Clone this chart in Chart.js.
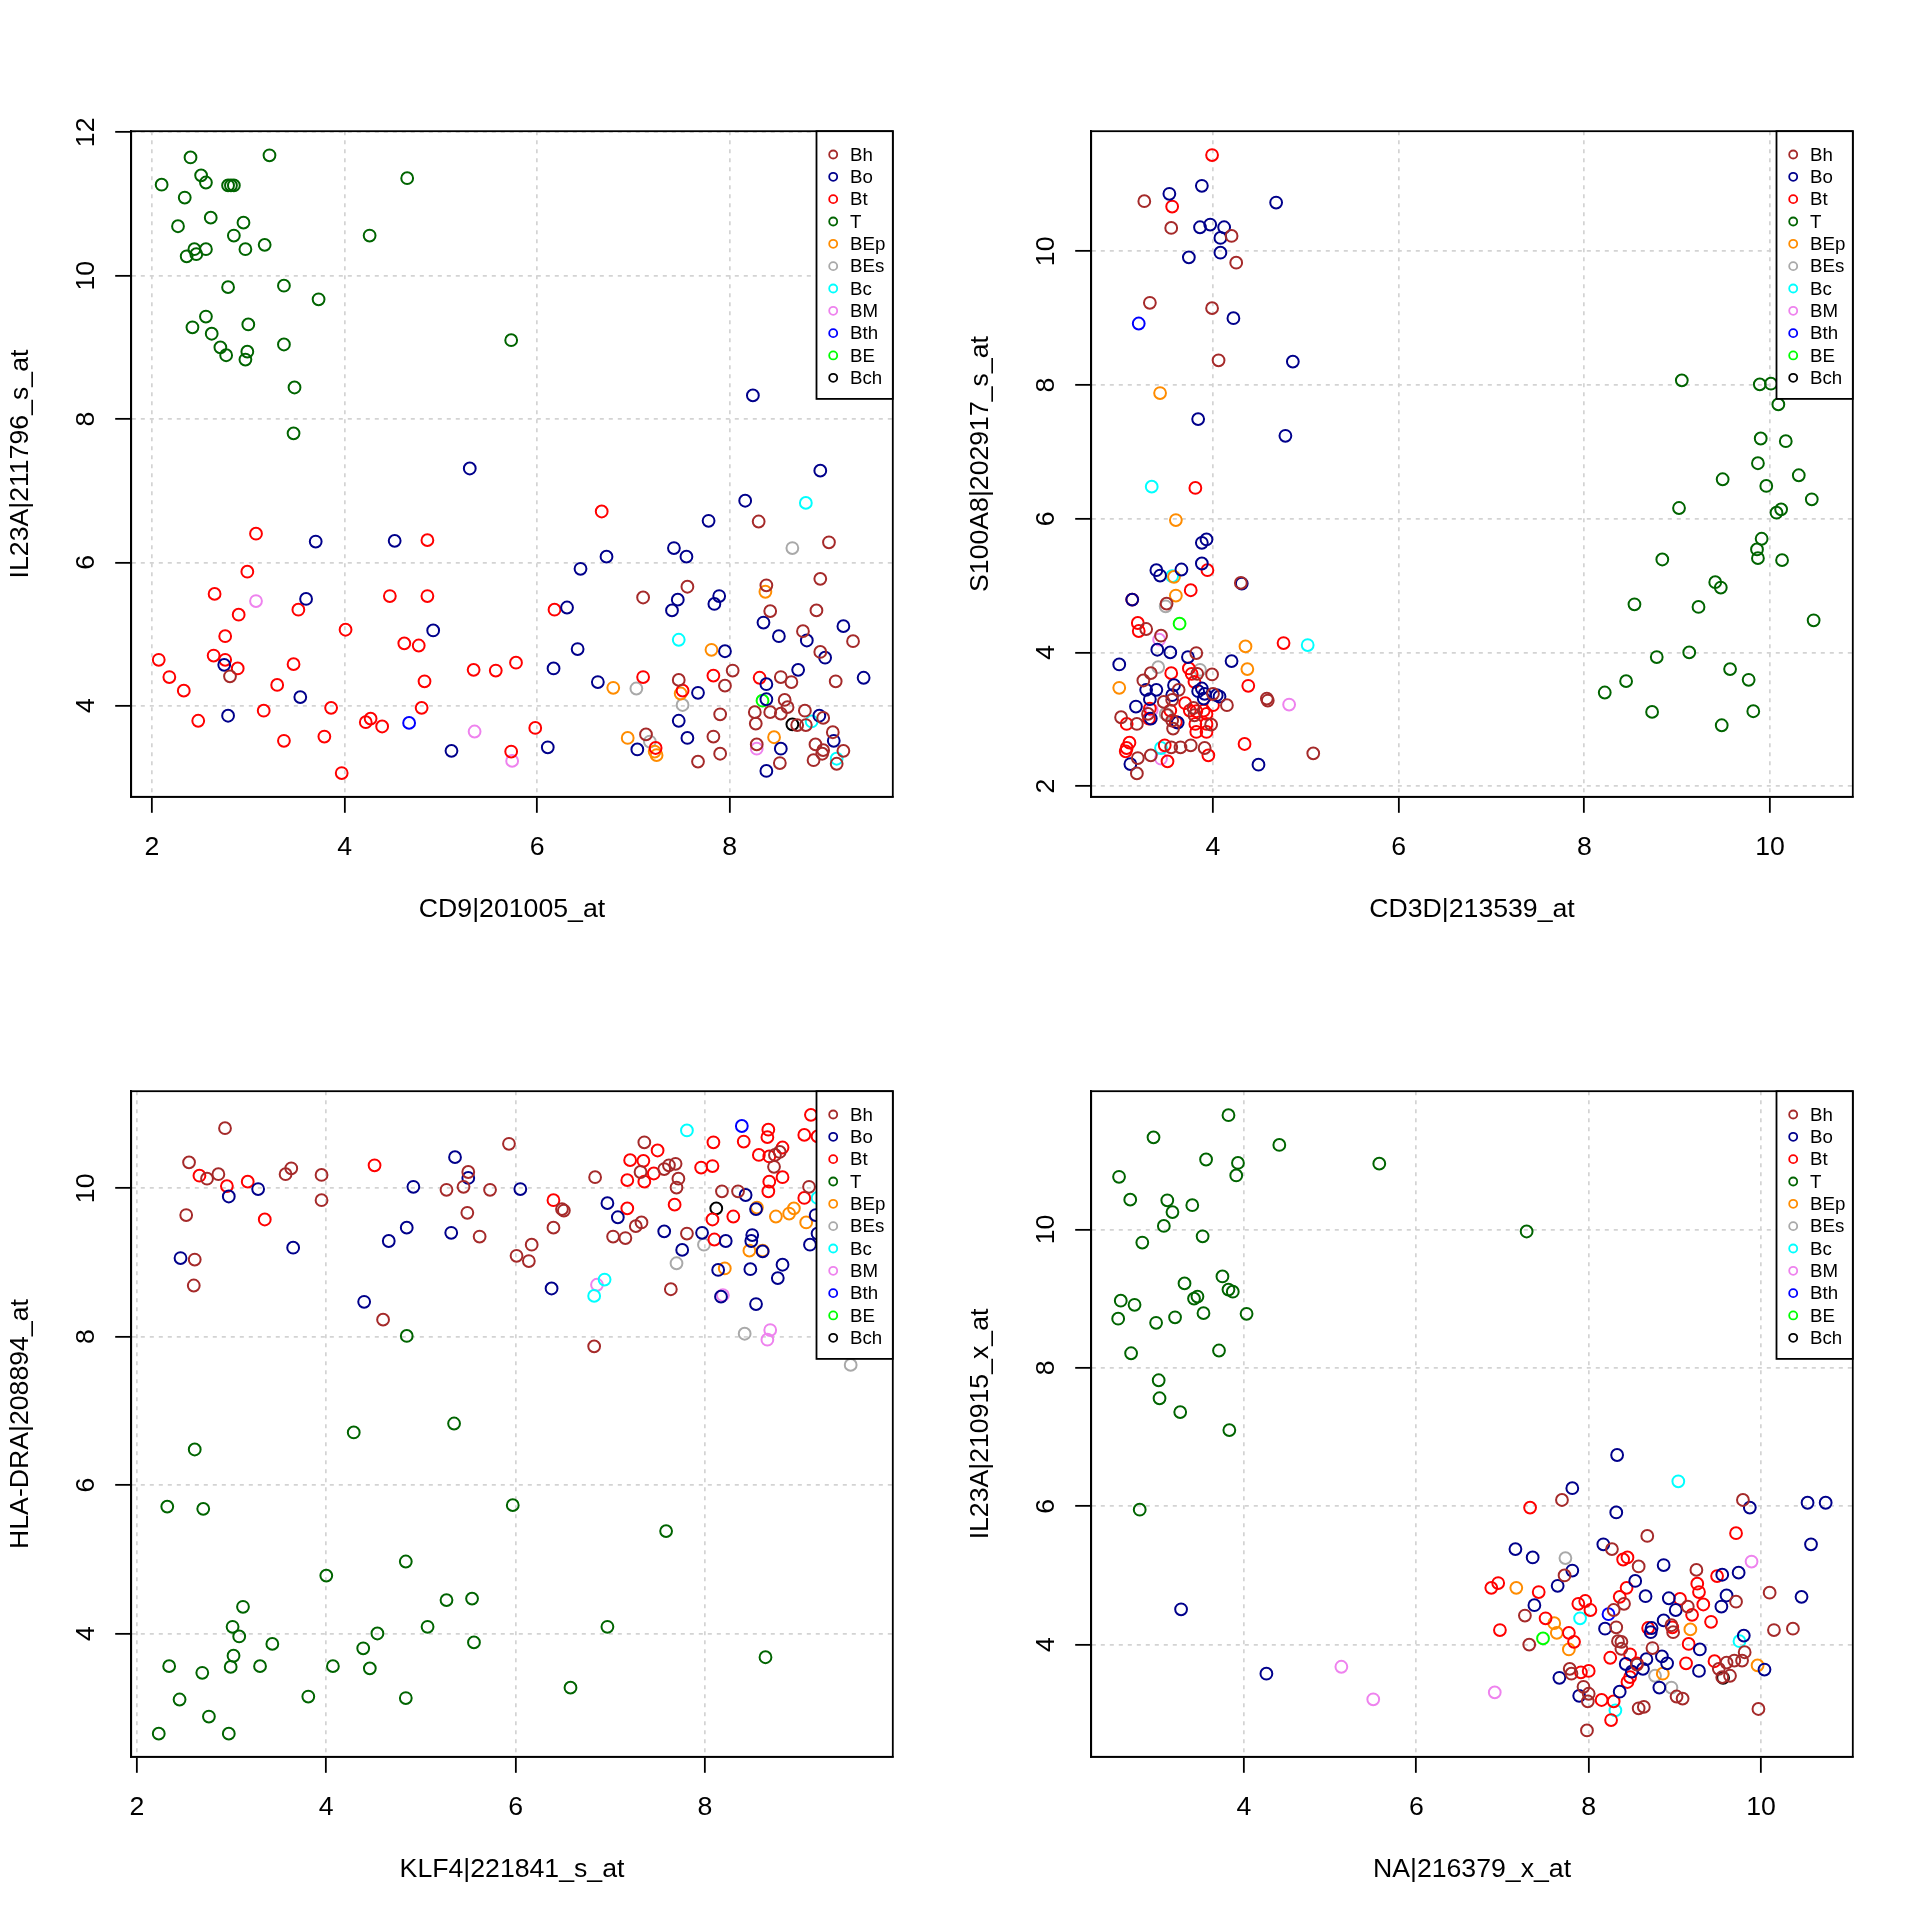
<!DOCTYPE html>
<html><head><meta charset="utf-8">
<script src="https://cdn.jsdelivr.net/npm/chart.js@4.4.1/dist/chart.umd.min.js"></script>
<style>
html,body{margin:0;padding:0;background:#fff;}
#fig{position:relative;width:1920px;height:1920px;background:#fff;overflow:hidden;}
canvas{position:absolute;}
</style></head><body>
<div id="fig">
<canvas id="c1" width="960" height="960" style="left:0px;top:0px;width:960px;height:960px"></canvas>
<canvas id="c2" width="960" height="960" style="left:960px;top:0px;width:960px;height:960px"></canvas>
<canvas id="c3" width="960" height="960" style="left:0px;top:960px;width:960px;height:960px"></canvas>
<canvas id="c4" width="960" height="960" style="left:960px;top:960px;width:960px;height:960px"></canvas>
</div>
<script>
// ---------- categories ----------
const groups = ["Bh","Bo","Bt","T","BEp","BEs","Bc","BM","Bth","BE","Bch"];
const groupColors = ["#A52A2A","#00008B","#FF0000","#006400","#FF8C00","#A9A9A9","#00FFFF","#EE82EE","#0000FF","#00FF00","#000000"];

// ---------- panel 1: CD9|201005_at vs IL23A|211796_s_at ----------
const p1Title = ["CD9|201005_at","IL23A|211796_s_at"];
const p1XTicks = [2,4,6,8];
const p1YTicks = [4,6,8,10,12];
const p1Range = [1.784, 9.693, 2.729, 12.016];
const p1Bh = [[2.81,4.41],[8.30,6.57],[9.03,6.28],[7.56,5.66],[7.10,5.51],[8.38,5.68],[8.94,5.77],[8.42,5.32],[8.90,5.33],[8.76,5.04],[9.28,4.90],[8.94,4.75],[7.47,4.36],[8.03,4.49],[7.95,4.28],[8.53,4.40],[8.64,4.33],[9.10,4.34],[8.57,4.08],[8.60,3.98],[8.53,3.89],[8.42,3.91],[8.26,3.91],[8.27,3.75],[8.78,3.93],[7.90,3.88],[8.79,3.73],[8.70,3.73],[8.97,3.83],[7.83,3.57],[7.13,3.60],[7.90,3.33],[7.67,3.22],[8.28,3.46],[8.52,3.20],[9.07,3.63],[8.89,3.46],[8.97,3.38],[9.18,3.37],[8.87,3.24],[8.96,3.33],[9.11,3.19]];
const p1Bo = [[5.30,7.31],[8.24,8.33],[3.70,6.29],[4.52,6.30],[3.60,5.49],[4.92,5.05],[2.75,4.57],[3.54,4.12],[2.79,3.86],[6.17,4.52],[6.31,5.37],[5.11,3.37],[6.11,3.42],[8.94,7.28],[8.16,6.86],[7.78,6.58],[7.42,6.20],[7.55,6.08],[6.72,6.08],[6.45,5.91],[7.46,5.48],[7.40,5.33],[7.89,5.53],[7.84,5.42],[8.35,5.16],[9.18,5.11],[8.51,4.97],[8.80,4.91],[8.99,4.67],[7.95,4.76],[6.42,4.79],[6.63,4.33],[7.67,4.18],[8.38,4.30],[8.71,4.50],[9.39,4.39],[8.38,4.09],[7.47,3.79],[8.93,3.86],[7.56,3.55],[7.04,3.39],[8.53,3.40],[8.38,3.09],[9.08,3.51]];
const p1Bt = [[3.08,6.40],[4.86,6.31],[2.99,5.87],[2.65,5.56],[3.52,5.34],[4.47,5.53],[4.86,5.53],[2.90,5.27],[4.01,5.06],[2.76,4.97],[4.62,4.87],[4.77,4.84],[2.07,4.64],[2.64,4.70],[2.76,4.64],[2.89,4.52],[2.18,4.40],[3.47,4.58],[2.33,4.21],[3.30,4.29],[4.83,4.34],[5.34,4.50],[5.57,4.49],[5.78,4.60],[6.18,5.34],[4.80,3.97],[3.86,3.97],[3.16,3.93],[2.48,3.79],[4.22,3.77],[4.27,3.82],[4.39,3.71],[3.37,3.51],[3.79,3.57],[5.73,3.36],[5.98,3.69],[3.97,3.06],[6.67,6.71],[7.10,4.40],[7.51,4.21],[7.83,4.42],[8.31,4.39],[7.23,3.41]];
const p1T = [[2.40,11.65],[3.22,11.68],[2.10,11.27],[2.51,11.40],[2.56,11.30],[2.79,11.26],[2.82,11.26],[2.85,11.26],[2.34,11.09],[4.65,11.36],[2.61,10.81],[2.27,10.69],[2.95,10.74],[2.85,10.56],[4.26,10.56],[3.17,10.43],[2.97,10.37],[2.56,10.37],[2.44,10.37],[2.46,10.30],[2.36,10.27],[2.79,9.84],[3.37,9.86],[3.73,9.67],[2.56,9.43],[2.42,9.28],[3.00,9.32],[2.62,9.19],[3.37,9.04],[2.71,9.00],[2.77,8.89],[2.99,8.94],[2.97,8.83],[5.73,9.10],[3.48,8.44],[3.47,7.80]];
const p1BEp = [[8.37,5.59],[7.81,4.78],[6.79,4.25],[7.49,4.17],[8.46,3.56],[6.94,3.55],[7.22,3.36],[7.24,3.31]];
const p1BEs = [[8.65,6.20],[7.03,4.24],[7.51,4.01],[7.17,3.50]];
const p1Bc = [[8.79,6.83],[7.47,4.92],[8.85,3.78],[9.11,3.26]];
const p1BM = [[3.08,5.46],[5.35,3.64],[5.74,3.23],[8.28,3.40]];
const p1Bth = [[4.67,3.76]];
const p1BE = [[8.34,4.07]];
const p1Bch = [[8.65,3.74]];

// ---------- panel 2: CD3D|213539_at vs S100A8|202917_s_at ----------
const p2Title = ["CD3D|213539_at","S100A8|202917_s_at"];
const p2XTicks = [4,6,8,10];
const p2YTicks = [2,4,6,8,10];
const p2Range = [2.688, 10.892, 1.840, 11.797];
const p2Bh = [[3.26,10.75],[3.55,10.35],[4.20,10.23],[4.25,9.83],[3.32,9.23],[3.99,9.15],[4.06,8.37],[4.30,5.04],[3.50,4.73],[3.28,4.35],[3.44,4.25],[3.82,3.99],[4.58,3.31],[4.59,3.28],[5.08,2.49],[3.33,3.69],[3.25,3.58],[3.99,3.67],[3.63,3.44],[4.15,3.21],[4.00,3.38],[3.01,3.03],[3.18,2.93],[3.47,3.26],[3.56,3.29],[3.51,3.06],[3.56,2.98],[3.57,2.86],[3.79,3.17],[3.80,3.06],[3.98,2.92],[3.30,3.08],[3.19,2.42],[3.18,2.19],[3.33,2.46],[3.55,2.58],[3.65,2.58],[3.76,2.61],[3.91,2.57],[3.83,3.68]];
const p2Bo = [[3.88,10.98],[3.53,10.86],[4.68,10.73],[3.86,10.36],[3.97,10.40],[4.12,10.36],[4.08,10.20],[3.74,9.91],[4.08,9.98],[4.22,9.00],[4.86,8.35],[3.84,7.49],[4.78,7.24],[3.88,5.64],[3.93,5.69],[3.39,5.23],[3.43,5.15],[3.66,5.24],[3.88,5.33],[4.31,5.03],[3.13,4.79],[3.40,4.04],[3.54,4.00],[3.73,3.93],[4.20,3.87],[4.49,2.32],[2.99,3.82],[3.28,3.44],[3.39,3.44],[3.58,3.51],[3.56,3.36],[3.84,3.42],[3.88,3.46],[3.90,3.31],[3.91,3.38],[4.04,3.36],[4.07,3.34],[3.32,3.30],[3.17,3.19],[3.33,3.01],[3.62,2.95],[3.11,2.33]];
const p2Bt = [[3.99,11.44],[3.56,10.67],[3.81,6.46],[3.94,5.23],[3.76,4.93],[3.13,4.79],[3.19,4.44],[3.20,4.32],[4.76,4.14],[4.38,3.50],[4.34,2.63],[3.55,3.69],[3.74,3.76],[3.77,3.68],[3.80,3.56],[3.07,2.93],[3.31,3.01],[3.54,3.13],[3.60,2.96],[3.70,3.24],[3.75,3.13],[3.82,3.12],[3.90,3.13],[3.93,3.08],[4.00,3.21],[3.81,2.93],[3.93,2.93],[3.82,2.81],[3.93,2.81],[3.32,3.16],[3.07,2.57],[3.10,2.65],[3.06,2.52],[3.51,2.37],[3.48,2.61],[3.95,2.46]];
const p2T = [[9.05,8.07],[9.89,8.01],[10.01,8.02],[10.09,7.71],[9.90,7.20],[10.17,7.16],[9.87,6.83],[9.49,6.59],[10.31,6.65],[9.96,6.49],[10.45,6.29],[9.02,6.16],[10.07,6.09],[10.12,6.14],[9.91,5.70],[9.86,5.54],[9.87,5.41],[10.13,5.38],[8.84,5.39],[9.41,5.05],[9.47,4.97],[8.54,4.72],[9.23,4.68],[10.47,4.48],[9.13,4.00],[8.78,3.93],[9.57,3.75],[9.77,3.59],[8.45,3.57],[8.22,3.40],[8.73,3.11],[9.82,3.12],[9.48,2.91]];
const p2BEp = [[3.43,7.88],[3.60,5.98],[3.58,5.13],[3.60,4.85],[4.35,4.09],[4.37,3.75],[2.99,3.47]];
const p2BEs = [[3.49,4.69],[3.41,3.78],[3.86,3.74],[3.49,3.08]];
const p2Bc = [[3.34,6.48],[3.56,5.14],[5.02,4.11],[3.44,2.57]];
const p2BM = [[3.42,4.19],[4.82,3.22],[3.34,3.14],[3.44,2.41]];
const p2Bth = [[3.20,8.92]];
const p2BE = [[3.64,4.43]];
const p2Bch = [];

// ---------- panel 3: KLF4|221841_s_at vs HLA-DRA|208894_at ----------
const p3Title = ["KLF4|221841_s_at","HLA-DRA|208894_at"];
const p3XTicks = [2,4,6,8];
const p3YTicks = [4,6,8,10];
const p3Range = [1.939, 9.985, 2.338, 11.309];
const p3Bh = [[2.93,10.81],[2.55,10.35],[2.74,10.13],[2.86,10.19],[3.57,10.19],[3.63,10.27],[3.95,10.18],[3.95,9.84],[2.52,9.64],[2.61,9.04],[2.60,8.69],[5.50,10.22],[5.45,10.02],[5.27,9.98],[5.73,9.98],[5.93,10.60],[5.49,9.67],[5.62,9.35],[4.60,8.23],[6.01,9.09],[7.36,10.62],[7.32,10.22],[7.57,10.26],[7.62,10.31],[7.69,10.33],[7.72,10.13],[7.70,10.01],[6.84,10.15],[6.49,9.72],[6.51,9.70],[6.40,9.47],[7.27,9.49],[7.33,9.54],[7.03,9.35],[7.16,9.33],[6.17,9.24],[6.14,9.02],[7.81,9.39],[7.64,8.64],[6.83,7.87],[8.79,10.49],[8.74,10.45],[8.73,10.29],[8.18,9.96],[8.35,9.96],[9.10,10.02]];
const p3Bo = [[3.28,9.99],[2.97,9.89],[3.65,9.20],[2.46,9.06],[5.36,10.42],[5.50,10.14],[4.92,10.02],[5.32,9.40],[4.85,9.47],[4.66,9.29],[4.40,8.47],[6.05,9.99],[6.97,9.80],[7.08,9.61],[7.57,9.42],[7.76,9.17],[7.97,9.40],[6.38,8.65],[8.43,9.91],[8.54,9.72],[8.22,9.29],[8.50,9.37],[8.49,9.29],[8.61,9.15],[8.14,8.90],[8.48,8.91],[8.82,8.97],[8.77,8.79],[8.17,8.54],[8.54,8.44],[9.11,9.24],[9.17,9.64],[9.19,9.39]];
const p3Bt = [[2.66,10.17],[2.95,10.03],[3.17,10.09],[3.35,9.58],[4.51,10.31],[7.50,10.51],[7.21,10.38],[7.35,10.37],[7.18,10.11],[7.36,10.09],[7.46,10.20],[7.68,9.78],[6.40,9.84],[7.18,9.73],[8.09,10.62],[8.41,10.63],[8.67,10.79],[8.66,10.69],[8.57,10.45],[8.68,10.43],[8.82,10.55],[8.68,10.09],[8.67,9.96],[8.82,10.15],[9.05,10.72],[9.12,10.99],[9.19,10.70],[7.96,10.28],[8.08,10.30],[8.08,9.58],[8.30,9.62],[9.05,9.87],[8.10,9.31]];
const p3T = [[2.61,6.48],[4.29,6.71],[5.35,6.83],[2.32,5.71],[2.70,5.68],[5.97,5.73],[7.59,5.38],[4.84,4.97],[4.00,4.78],[5.27,4.45],[5.54,4.47],[3.12,4.36],[5.07,4.09],[6.97,4.09],[3.01,4.09],[3.08,3.96],[4.54,4.00],[3.43,3.86],[5.56,3.88],[4.39,3.80],[3.02,3.70],[2.34,3.56],[2.99,3.55],[3.30,3.56],[4.07,3.56],[4.46,3.53],[2.69,3.47],[8.64,3.68],[6.58,3.27],[3.81,3.15],[4.84,3.13],[2.45,3.11],[2.76,2.88],[2.23,2.65],[2.97,2.65],[4.85,8.01]];
const p3BEp = [[8.55,9.74],[8.75,9.62],[8.89,9.66],[8.94,9.73],[9.07,9.54],[8.47,9.16],[8.61,9.16],[8.21,8.92]];
const p3BEs = [[7.70,8.99],[7.99,9.24],[8.42,8.04],[9.54,7.62]];
const p3Bc = [[7.81,10.78],[6.94,8.77],[6.83,8.55],[9.19,9.87]];
const p3BM = [[6.86,8.70],[8.19,8.56],[8.69,8.09],[8.66,7.96]];
const p3Bth = [[8.39,10.84]];
const p3BE = [];
const p3Bch = [[8.12,9.73]];

// ---------- panel 4: NA|216379_x_at vs IL23A|210915_x_at ----------
const p4Title = ["NA|216379_x_at","IL23A|210915_x_at"];
const p4XTicks = [4,6,8,10];
const p4YTicks = [4,6,8,10];
const p4Range = [2.227, 11.065, 2.379, 11.997];
const p4Bh = [[7.69,6.09],[9.79,6.09],[8.68,5.57],[8.27,5.38],[8.58,5.13],[7.72,5.00],[9.25,5.08],[7.26,4.42],[7.31,4.00],[8.29,4.50],[8.32,4.25],[8.41,4.59],[9.15,4.55],[9.71,4.62],[10.10,4.75],[8.96,4.28],[8.98,4.18],[8.34,4.05],[8.38,4.04],[8.38,3.94],[8.74,3.95],[8.56,3.71],[9.51,3.65],[9.60,3.74],[9.69,3.77],[9.78,3.77],[9.81,3.89],[9.55,3.53],[9.64,3.55],[10.15,4.21],[9.97,3.07],[7.78,3.65],[7.80,3.58],[7.94,3.39],[8.00,3.29],[7.99,3.18],[7.98,2.76],[8.58,3.08],[8.64,3.10],[9.02,3.25],[9.09,3.22],[10.37,4.23]];
const p4Bo = [[8.33,6.74],[7.81,6.26],[8.32,5.91],[9.87,5.98],[8.17,5.45],[7.15,5.38],[7.35,5.26],[8.87,5.15],[7.81,5.07],[7.64,4.85],[9.55,5.01],[9.74,5.04],[7.37,4.57],[8.19,4.23],[8.54,4.92],[8.66,4.70],[8.93,4.67],[9.01,4.50],[9.54,4.55],[9.60,4.71],[8.87,4.35],[8.73,4.24],[8.72,4.18],[8.43,3.72],[8.50,3.61],[8.63,3.65],[8.67,3.79],[8.85,3.83],[8.91,3.73],[9.29,3.93],[9.28,3.62],[9.80,4.13],[10.04,3.64],[7.66,3.52],[7.89,3.26],[8.36,3.32],[8.82,3.38],[3.27,4.51],[4.26,3.58],[10.54,6.05],[10.75,6.05],[10.58,5.45],[10.47,4.69]];
const p4Bt = [[7.32,5.98],[9.71,5.61],[8.40,5.23],[8.45,5.26],[9.49,4.99],[6.87,4.82],[6.95,4.89],[7.42,4.76],[7.50,4.38],[7.77,4.17],[7.83,4.04],[6.97,4.21],[7.88,4.59],[7.96,4.63],[8.02,4.50],[8.36,4.69],[8.44,4.82],[9.06,4.66],[9.20,4.43],[9.26,4.88],[9.28,4.76],[9.33,4.58],[9.42,4.33],[8.97,4.25],[8.69,4.24],[8.48,3.86],[8.25,3.81],[8.56,3.73],[8.45,3.46],[8.48,3.53],[9.16,4.01],[9.13,3.73],[9.46,3.76],[7.91,3.60],[8.00,3.62],[8.15,3.20],[8.29,3.18],[8.26,2.91]];
const p4T = [[3.82,11.65],[2.95,11.33],[4.41,11.22],[3.56,11.01],[3.93,10.96],[3.91,10.78],[5.57,10.95],[2.55,10.76],[2.68,10.43],[3.11,10.42],[3.17,10.25],[3.40,10.35],[3.07,10.05],[3.52,9.90],[2.82,9.81],[7.28,9.97],[3.75,9.32],[3.31,9.22],[3.82,9.13],[3.87,9.10],[3.42,9.00],[3.46,9.03],[2.57,8.97],[2.73,8.91],[2.54,8.71],[2.98,8.65],[3.20,8.73],[3.53,8.79],[4.03,8.78],[2.69,8.21],[3.71,8.25],[3.01,7.82],[3.02,7.56],[3.26,7.36],[3.83,7.10],[2.79,5.95]];
const p4BEp = [[7.16,4.82],[7.60,4.31],[7.63,4.17],[7.77,3.93],[9.18,4.22],[8.86,3.58],[9.96,3.70]];
const p4BEs = [[7.73,5.25],[8.77,3.55],[8.96,3.38]];
const p4Bc = [[9.04,6.36],[7.90,4.38],[9.75,4.05],[8.31,3.05]];
const p4BM = [[9.89,5.20],[6.91,3.31],[5.13,3.68],[5.50,3.21]];
const p4Bth = [[8.23,4.44]];
const p4BE = [[7.47,4.09]];
const p4Bch = [[9.56,3.52]];

const panel1 = [p1Bh,p1Bo,p1Bt,p1T,p1BEp,p1BEs,p1Bc,p1BM,p1Bth,p1BE,p1Bch];
const panel2 = [p2Bh,p2Bo,p2Bt,p2T,p2BEp,p2BEs,p2Bc,p2BM,p2Bth,p2BE,p2Bch];
const panel3 = [p3Bh,p3Bo,p3Bt,p3T,p3BEp,p3BEs,p3Bc,p3BM,p3Bth,p3BE,p3Bch];
const panel4 = [p4Bh,p4Bo,p4Bt,p4T,p4BEp,p4BEs,p4Bc,p4BM,p4Bth,p4BE,p4Bch];

// ---------- drawing ----------
const FONT = "'Liberation Sans', Arial, Helvetica, sans-serif";
const FS = 26.67;

const boxPlugin = {
  id: 'rbox',
  afterDraw(chart) {
    const a = chart.chartArea, c = chart.ctx;
    c.save();
    c.strokeStyle = '#000'; c.lineWidth = 1.8;
    c.strokeRect(a.left, a.top, a.right - a.left, a.bottom - a.top);
    c.restore();
  }
};
const legendPlugin = {
  id: 'rlegend',
  afterDraw(chart) {
    const a = chart.chartArea, c = chart.ctx;
    const w = 76.3, h = 267.7;
    const left = a.right - w, top = a.top;
    c.save();
    c.fillStyle = '#fff';
    c.fillRect(left, top, w, h);
    c.strokeStyle = '#000'; c.lineWidth = 1.8;
    c.strokeRect(left, top, w, h);
    c.font = '18.7px ' + FONT;
    c.textBaseline = 'middle';
    c.textAlign = 'left';
    chart.data.datasets.forEach((ds, i) => {
      const y = top + 23.3 + i * 22.33;
      c.beginPath();
      c.arc(left + 16.7, y, 4.0, 0, Math.PI * 2);
      c.strokeStyle = ds.borderColor; c.lineWidth = 1.8;
      c.stroke();
      c.fillStyle = '#000';
      c.fillText(ds.label, left + 33.5, y + 1);
    });
    c.restore();
  }
};

function axisCommon(ticks, title, isX) {
  const o = {
    type: 'linear',
    afterBuildTicks: (s) => { s.ticks = ticks.map(v => ({ value: v })); },
    grid: { color: '#D3D3D3', lineWidth: 1.7, drawTicks: true, tickLength: 16, tickColor: '#000', tickWidth: 1.8, tickBorderDash: [], borderDash: [4, 5] },
    border: { display: true, color: '#000', width: 1.8, dash: [4, 5] },
    ticks: { color: '#000', font: { family: FONT, size: FS }, autoSkip: false },
    title: { display: true, text: title, color: '#000', font: { family: FONT, size: FS, lineHeight: 1.2 } }
  };
  if (isX) {
    o.afterFit = (s) => { s.height = 163.2; };
    o.ticks.padding = 19; o.ticks.maxRotation = 0; o.ticks.minRotation = 0;
    o.title.padding = { top: 0, bottom: 34.2 };
  } else {
    o.afterFit = (s) => { s.width = 131.2; };
    o.ticks.padding = 14; o.ticks.minRotation = 90; o.ticks.maxRotation = 90; o.ticks.crossAlign = 'center';
    o.title.padding = { top: 4.8, bottom: 0 };
  }
  return o;
}

function makePanel(id, series, range, xt, yt, titles) {
  const ctx = document.getElementById(id);
  return new Chart(ctx, {
    type: 'scatter',
    data: {
      datasets: groups.map((g, i) => ({
        label: g,
        data: series[i].map(p => ({ x: p[0], y: p[1] })),
        borderColor: groupColors[i],
        backgroundColor: 'rgba(0,0,0,0)',
        pointRadius: 5.9, pointHoverRadius: 5.9,
        pointBorderWidth: 2, pointHoverBorderWidth: 2,
        showLine: false
      }))
    },
    options: {
      responsive: false, animation: false, devicePixelRatio: 1,
      events: [],
      layout: { autoPadding: false, padding: { top: 131.2, right: 67.2, left: 0, bottom: 0 } },
      plugins: { legend: { display: false }, tooltip: { enabled: false } },
      scales: {
        x: Object.assign(axisCommon(xt, titles[0], true), { min: range[0], max: range[1], position: 'bottom' }),
        y: Object.assign(axisCommon(yt, titles[1], false), { min: range[2], max: range[3], position: 'left' })
      }
    },
    plugins: [boxPlugin, legendPlugin]
  });
}

makePanel('c1', panel1, p1Range, p1XTicks, p1YTicks, p1Title);
makePanel('c2', panel2, p2Range, p2XTicks, p2YTicks, p2Title);
makePanel('c3', panel3, p3Range, p3XTicks, p3YTicks, p3Title);
makePanel('c4', panel4, p4Range, p4XTicks, p4YTicks, p4Title);
</script>
</body></html>
